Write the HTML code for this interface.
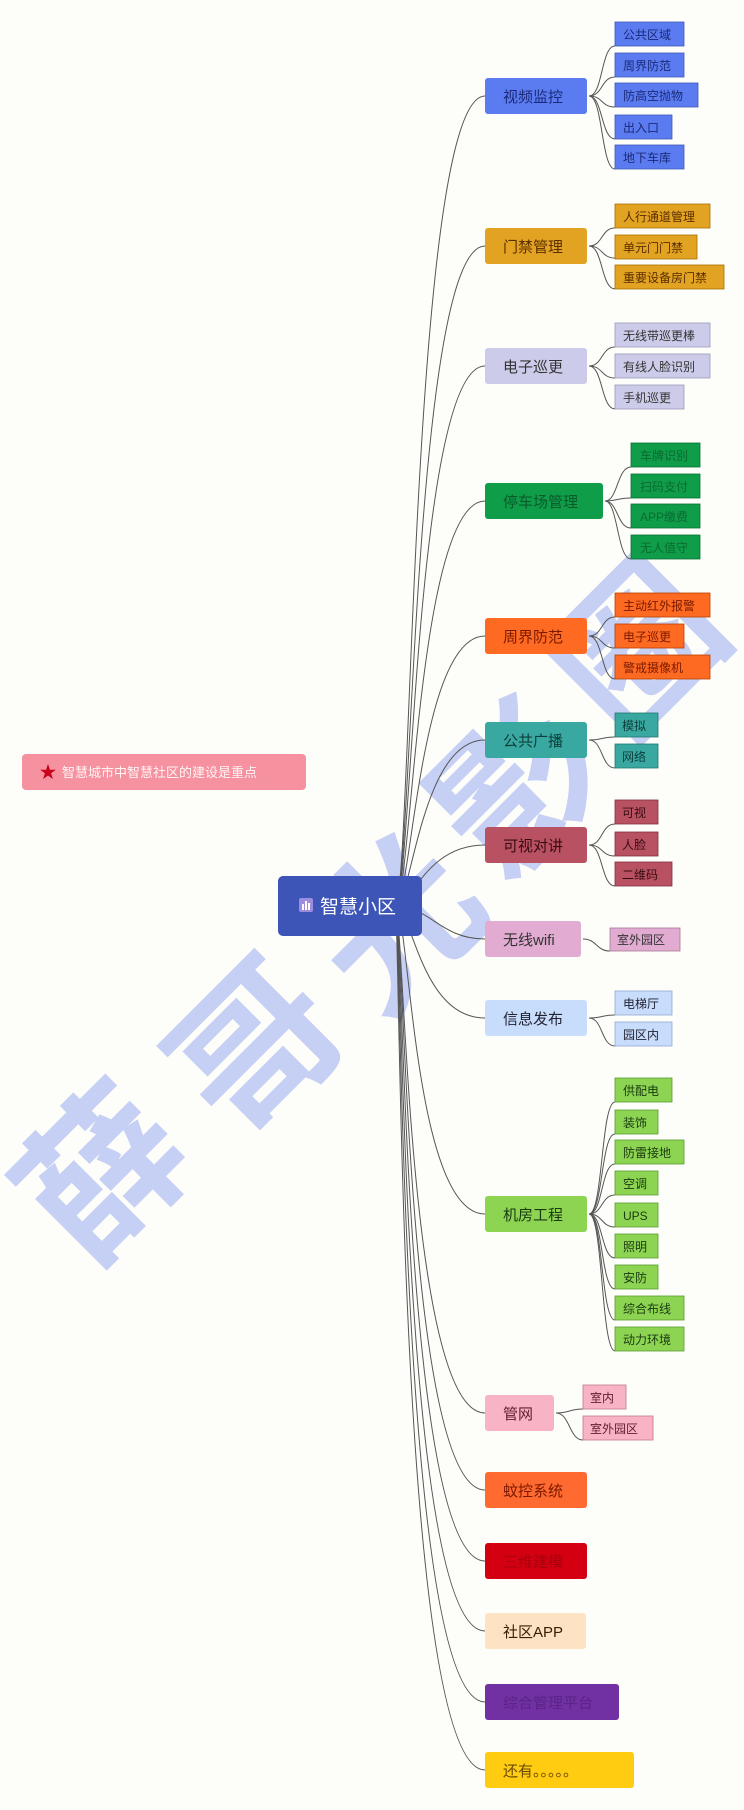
<!DOCTYPE html>
<html><head><meta charset="utf-8"><style>
html,body{margin:0;padding:0;background:#fdfdfa;}
svg{display:block;font-family:"Liberation Sans","Noto Sans CJK SC",sans-serif;}
</style></head><body>
<svg width="744" height="1810" viewBox="0 0 744 1810" xmlns="http://www.w3.org/2000/svg">
<rect width="744" height="1810" fill="#fdfdfa"/>
<!-- watermark -->
<g fill="#bcc7f2" font-size="160" font-weight="bold" text-anchor="middle" font-family="'Noto Sans CJK SC',sans-serif" opacity="0.85">
<text transform="translate(105,1175) rotate(-45)" dy="55">薛</text>
<text transform="translate(258,1050) rotate(-45)" dy="55">哥</text>
<text transform="translate(398,925) rotate(-45)" dy="55">光</text>
<text transform="translate(518,790) rotate(-45)" dy="55">影</text>
<text transform="translate(640,650) rotate(-45)" dy="55">圈</text>
</g>
<!-- main connectors -->
<g fill="none" stroke="#555" stroke-width="1">
<path d="M395,906 C412,906 410,96 485,96"/>
<path d="M395,906 C412,906 412,246 485,246"/>
<path d="M395,906 C412,906 414,366 485,366"/>
<path d="M395,906 C412,906 416,501 485,501"/>
<path d="M395,906 C412,906 418,636 485,636"/>
<path d="M395,906 C412,906 420,740 485,740"/>
<path d="M395,906 C412,906 425,845 485,845"/>
<path d="M395,906 C430,906 440,939 485,939"/>
<path d="M395,906 C412,906 420,1018 485,1018"/>
<path d="M395,906 C410,906 412,1214 485,1214"/>
<path d="M395,906 C405,906 406,1413 485,1413"/>
<path d="M395,906 C405,906 404,1490 485,1490"/>
<path d="M395,906 C404,906 402,1561 485,1561"/>
<path d="M395,906 C403,906 400,1631 485,1631"/>
<path d="M395,906 C402,906 398,1702 485,1702"/>
<path d="M395,906 C401,906 396,1770 485,1770"/>
</g>
<!-- child connectors -->
<g fill="none" stroke="#555" stroke-width="1">
<path d="M589,96 C603,96 601,46 615,46"/><path d="M589,96 C603,96 601,77 615,77"/><path d="M589,96 C603,96 601,107 615,107"/><path d="M589,96 C603,96 601,139 615,139"/><path d="M589,96 C603,96 601,169 615,169"/>
<path d="M589,246 C603,246 601,228 615,228"/><path d="M589,246 C603,246 601,258 615,258"/><path d="M589,246 C603,246 601,289 615,289"/>
<path d="M589,366 C603,366 601,347 615,347"/><path d="M589,366 C603,366 601,378 615,378"/><path d="M589,366 C603,366 601,409 615,409"/>
<path d="M605,501 C618,501 617,467 631,467"/><path d="M605,501 C618,501 617,498 631,498"/><path d="M605,501 C618,501 617,528 631,528"/><path d="M605,501 C618,501 617,559 631,559"/>
<path d="M589,636 C603,636 601,617 615,617"/><path d="M589,636 C603,636 601,648 615,648"/><path d="M589,636 C603,636 601,679 615,679"/>
<path d="M589,740 C603,740 601,737 615,737"/><path d="M589,740 C603,740 601,768 615,768"/>
<path d="M589,845 C603,845 601,824 615,824"/><path d="M589,845 C603,845 601,856 615,856"/><path d="M589,845 C603,845 601,886 615,886"/>
<path d="M583,939 C597,939 596,951 610,951"/>
<path d="M589,1018 C603,1018 601,1015 615,1015"/><path d="M589,1018 C603,1018 601,1046 615,1046"/>
<path d="M589,1214 C603,1214 601,1102 615,1102"/><path d="M589,1214 C603,1214 601,1134 615,1134"/><path d="M589,1214 C603,1214 601,1164 615,1164"/><path d="M589,1214 C603,1214 601,1195 615,1195"/><path d="M589,1214 C603,1214 601,1227 615,1227"/><path d="M589,1214 C603,1214 601,1258 615,1258"/><path d="M589,1214 C603,1214 601,1289 615,1289"/><path d="M589,1214 C603,1214 601,1320 615,1320"/><path d="M589,1214 C603,1214 601,1351 615,1351"/>
<path d="M556,1413 C570,1413 569,1409 583,1409"/><path d="M556,1413 C570,1413 569,1440 583,1440"/>
</g>
<!-- note -->
<rect x="22" y="754" width="284" height="36" rx="4" fill="#f6919f"/>
<text x="48" y="778" font-size="17" fill="#c8001a" text-anchor="middle">★</text>
<text x="62" y="777" font-size="13" fill="#fff5f5">智慧城市中智慧社区的建设是重点</text>
<!-- central -->
<rect x="278" y="876" width="144" height="60" rx="5" fill="#3d55b7"/>
<rect x="299" y="898" width="14" height="14" rx="2" fill="#9c8de0"/>
<rect x="302" y="904" width="2" height="6" fill="#fff"/><rect x="305" y="901" width="2" height="9" fill="#fff"/><rect x="308" y="903" width="2" height="7" fill="#fff"/>
<text x="320" y="913" font-size="19" fill="#fff">智慧小区</text>
<!-- main nodes -->
<g font-size="15">
<rect x="485" y="78" width="102" height="36" rx="3" fill="#5b7cf0"/><text x="503" y="102" fill="#1b2a7a">视频监控</text>
<rect x="485" y="228" width="102" height="36" rx="3" fill="#e2a322"/><text x="503" y="252" fill="#5a2e00">门禁管理</text>
<rect x="485" y="348" width="102" height="36" rx="3" fill="#ccccea"/><text x="503" y="372" fill="#333">电子巡更</text>
<rect x="485" y="483" width="118" height="36" rx="3" fill="#0f9d4a"/><text x="503" y="507" fill="#0a5a2a">停车场管理</text>
<rect x="485" y="618" width="102" height="36" rx="3" fill="#ff6a22"/><text x="503" y="642" fill="#7a1a00">周界防范</text>
<rect x="485" y="722" width="102" height="36" rx="3" fill="#38a8a0"/><text x="503" y="746" fill="#0e3e3c">公共广播</text>
<rect x="485" y="827" width="102" height="36" rx="3" fill="#b85262"/><text x="503" y="851" fill="#3a0a12">可视对讲</text>
<rect x="485" y="921" width="96" height="36" rx="3" fill="#e2acd2"/><text x="503" y="945" fill="#333">无线wifi</text>
<rect x="485" y="1000" width="102" height="36" rx="3" fill="#c8dcfc"/><text x="503" y="1024" fill="#223">信息发布</text>
<rect x="485" y="1196" width="102" height="36" rx="3" fill="#8cd452"/><text x="503" y="1220" fill="#1a3a10">机房工程</text>
<rect x="485" y="1395" width="69" height="36" rx="3" fill="#f8b4c4"/><text x="503" y="1419" fill="#602030">管网</text>
<rect x="485" y="1472" width="102" height="36" rx="3" fill="#ff6a30"/><text x="503" y="1496" fill="#7a1800">蚊控系统</text>
<rect x="485" y="1543" width="102" height="36" rx="3" fill="#d40012"/><text x="503" y="1567" fill="#a8000e">三维建模</text>
<rect x="485" y="1613" width="101" height="36" rx="3" fill="#fde2c4"/><text x="503" y="1637" fill="#3a2000">社区APP</text>
<rect x="485" y="1684" width="134" height="36" rx="3" fill="#7231a2"/><text x="503" y="1708" fill="#5a2488">综合管理平台</text>
<rect x="485" y="1752" width="149" height="36" rx="3" fill="#ffcc12"/><text x="503" y="1776" fill="#6a4a00">还有。。。。。</text>
</g>
<!-- children -->
<g font-size="12">
<g fill="#5b7cf0" stroke="#4058b8" stroke-width="0.8">
<rect x="615" y="22" width="69" height="24"/><rect x="615" y="53" width="69" height="24"/><rect x="615" y="83" width="83" height="24"/><rect x="615" y="115" width="57" height="24"/><rect x="615" y="145" width="69" height="24"/></g>
<g fill="#1b2a7a"><text x="623" y="39">公共区域</text><text x="623" y="70">周界防范</text><text x="623" y="100">防高空抛物</text><text x="623" y="132">出入口</text><text x="623" y="162">地下车库</text></g>
<g fill="#e2a322" stroke="#a87000" stroke-width="0.8"><rect x="615" y="204" width="95" height="24"/><rect x="615" y="235" width="82" height="24"/><rect x="615" y="265" width="109" height="24"/></g>
<g fill="#5a2e00"><text x="623" y="221">人行通道管理</text><text x="623" y="252">单元门门禁</text><text x="623" y="282">重要设备房门禁</text></g>
<g fill="#ccccea" stroke="#9a9ab8" stroke-width="0.8"><rect x="615" y="323" width="95" height="24"/><rect x="615" y="354" width="95" height="24"/><rect x="615" y="385" width="69" height="24"/></g>
<g fill="#333"><text x="623" y="340">无线带巡更棒</text><text x="623" y="371">有线人脸识别</text><text x="623" y="402">手机巡更</text></g>
<g fill="#0f9d4a" stroke="#0a7034" stroke-width="0.8"><rect x="631" y="443" width="69" height="24"/><rect x="631" y="474" width="69" height="24"/><rect x="631" y="504" width="69" height="24"/><rect x="631" y="535" width="69" height="24"/></g>
<g fill="#0a6a30"><text x="640" y="460">车牌识别</text><text x="640" y="491">扫码支付</text><text x="640" y="521">APP缴费</text><text x="640" y="552">无人值守</text></g>
<g fill="#ff6a22" stroke="#b84000" stroke-width="0.8"><rect x="615" y="593" width="95" height="24"/><rect x="615" y="624" width="69" height="24"/><rect x="615" y="655" width="95" height="24"/></g>
<g fill="#7a1a00"><text x="623" y="610">主动红外报警</text><text x="623" y="641">电子巡更</text><text x="623" y="672">警戒摄像机</text></g>
<g fill="#38a8a0" stroke="#207870" stroke-width="0.8"><rect x="615" y="713" width="43" height="24"/><rect x="615" y="744" width="43" height="24"/></g>
<g fill="#0e3e3c"><text x="622" y="730">模拟</text><text x="622" y="761">网络</text></g>
<g fill="#b85262" stroke="#803040" stroke-width="0.8"><rect x="615" y="800" width="43" height="24"/><rect x="615" y="832" width="43" height="24"/><rect x="615" y="862" width="57" height="24"/></g>
<g fill="#3a0a12"><text x="622" y="817">可视</text><text x="622" y="849">人脸</text><text x="622" y="879">二维码</text></g>
<rect x="610" y="928" width="70" height="23" fill="#e2acd2" stroke="#a87898" stroke-width="0.8"/><text x="617" y="944" fill="#333">室外园区</text>
<g fill="#c8dcfc" stroke="#90a8d0" stroke-width="0.8"><rect x="615" y="991" width="57" height="24"/><rect x="615" y="1022" width="57" height="24"/></g>
<g fill="#223"><text x="623" y="1008">电梯厅</text><text x="623" y="1039">园区内</text></g>
<g fill="#8cd452" stroke="#5a9a30" stroke-width="0.8"><rect x="615" y="1078" width="57" height="24"/><rect x="615" y="1110" width="43" height="24"/><rect x="615" y="1140" width="69" height="24"/><rect x="615" y="1171" width="43" height="24"/><rect x="615" y="1203" width="43" height="24"/><rect x="615" y="1234" width="43" height="24"/><rect x="615" y="1265" width="43" height="24"/><rect x="615" y="1296" width="69" height="24"/><rect x="615" y="1327" width="69" height="24"/></g>
<g fill="#1a3a10"><text x="623" y="1095">供配电</text><text x="623" y="1127">装饰</text><text x="623" y="1157">防雷接地</text><text x="623" y="1188">空调</text><text x="623" y="1220">UPS</text><text x="623" y="1251">照明</text><text x="623" y="1282">安防</text><text x="623" y="1313">综合布线</text><text x="623" y="1344">动力环境</text></g>
<g fill="#f8b4c4" stroke="#c07888" stroke-width="0.8"><rect x="583" y="1385" width="43" height="24"/><rect x="583" y="1416" width="70" height="24"/></g>
<g fill="#602030"><text x="590" y="1402">室内</text><text x="590" y="1433">室外园区</text></g>
</g>
</svg>
</body></html>
